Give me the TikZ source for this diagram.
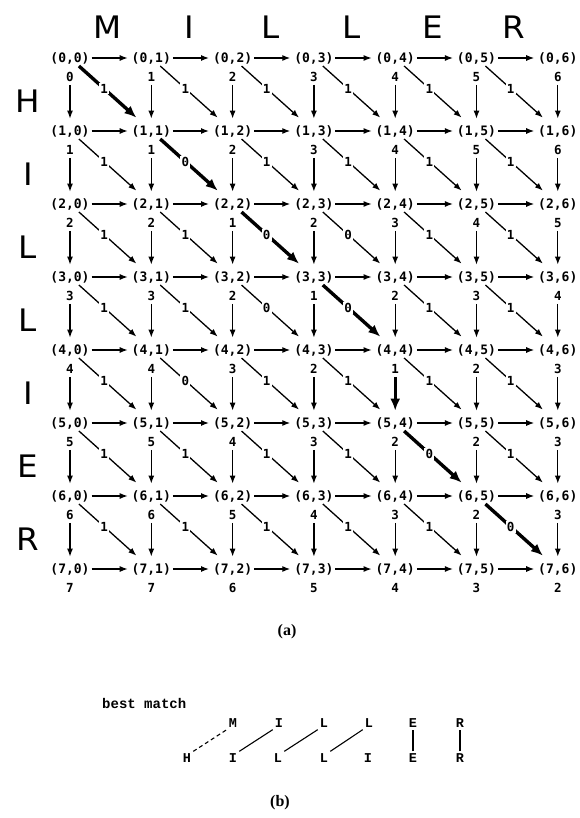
\documentclass[tikz,border=0pt]{standalone}
\usepackage{fontspec}
\setmainfont{Liberation Serif}
\newfontfamily\gridfont{DejaVu Sans Mono}
\newfontfamily\bigfont{DejaVu Sans}
\newfontfamily\ttfont{Liberation Mono}
\usetikzlibrary{arrows.meta}
\begin{document}
\begin{tikzpicture}[x=1pt,y=-1pt,
  lbl/.style={font={\gridfont\bfseries\fontsize{13pt}{14pt}\selectfont}, inner sep=0.8pt},
  val/.style={font={\gridfont\bfseries\fontsize{12.5pt}{14pt}\selectfont}, inner sep=0.5pt},
  dlab/.style={font={\gridfont\bfseries\fontsize{12.5pt}{14pt}\selectfont}, fill=white, inner sep=1.2pt},
  big/.style={font={\bigfont\fontsize{31pt}{34pt}\selectfont}, xscale=1.05, inner sep=0pt},
  captext/.style={font={\bfseries\fontsize{16pt}{18pt}\selectfont}, inner sep=0pt},
  edge0/.style={-{Latex[length=8pt,width=6pt]}, line width=1.3pt},
  edge1/.style={-{Latex[length=12pt,width=10pt]}, line width=3.4pt},
  blet/.style={font={\ttfont\bfseries\fontsize{13.5pt}{14pt}\selectfont}, inner sep=2pt},
  bline/.style={line width=1.1pt}
]
\useasboundingbox (0,0) rectangle (579,818);
% column letters
\foreach \c [count=\k from 0] in {M,I,L,L,E,R}
  \node[big] (col-\k) at ({107.6+81.3*\k},27) {\c};
% row letters
\foreach \r [count=\k from 0] in {H,I,L,L,I,E,R}
  \node[big] (row-\k) at (28,{101.5+73*\k}) {\r};
% nodes and values
\foreach \row [count=\i from 0] in {{0,1,2,3,4,5,6},{1,1,2,3,4,5,6},{2,2,1,2,3,4,5},{3,3,2,1,2,3,4},{4,4,3,2,1,2,3},{5,5,4,3,2,2,3},{6,6,5,4,3,2,3},{7,7,6,5,4,3,2}}{
  \foreach \v [count=\j from 0] in \row {
    \node[lbl] (n-\i-\j) at ({70+81.3*\j},{58+73*\i}) {(\i,\j)};
    \node[val] (v-\i-\j) at ({70+81.3*\j},{77+73*\i}) {\v};
  }
}
% horizontal arrows
\foreach \i in {0,...,7}
  \foreach \j in {0,...,5}{
    \pgfmathtruncatemacro\jj{\j+1}
    \draw[edge0, shorten <=1pt, shorten >=3pt] (n-\i-\j.east) -- (n-\i-\jj.west);
  }
% vertical arrows
\foreach \i in {0,...,6}
  \foreach \j in {0,...,6}{
    \pgfmathtruncatemacro\ii{\i+1}
    \pgfmathtruncatemacro\bold{(\i==4 && \j==4) ? 1 : 0}
    \draw[edge\bold, shorten <=2.5pt, shorten >=5.5pt] (v-\i-\j.south) -- (n-\ii-\j.north);
  }
% diagonal arrows
\foreach \i in {0,...,6}
  \foreach \j in {0,...,5}{
    \pgfmathtruncatemacro\ii{\i+1}
    \pgfmathtruncatemacro\jj{\j+1}
    \pgfmathtruncatemacro\rl{{0,1,2,3,3,2,4,5}[\ii]}
    \pgfmathtruncatemacro\cl{{0,6,2,3,3,4,5}[\jj]}
    \pgfmathtruncatemacro\lab{\rl==\cl ? 0 : 1}
    \pgfmathtruncatemacro\bold{((\i==\j) && (\i<4)) || (\i==5 && \j==4) || (\i==6 && \j==5) ? 1 : 0}
    \draw[edge\bold, shorten <=12pt, shorten >=20pt] (n-\i-\j.center) -- node[dlab, pos=0.42] {\lab} (n-\ii-\jj.center);
  }
\node[captext] (capa) at (287,632) {(a)};
% part (b)
\node[font={\ttfont\bfseries\fontsize{14pt}{15pt}\selectfont}, anchor=west, inner sep=0pt] (best) at (102,703) {best match};
\foreach \c/\x [count=\k] in {M/233,I/279,L/324,L/369,E/413,R/460}
  \node[blet] (t-\k) at (\x,723) {\c};
\foreach \c/\x [count=\k] in {H/187,I/233,L/278,L/324,I/368,E/413,R/460}
  \node[blet] (b-\k) at (\x,758) {\c};
\draw[bline, dashed, dash pattern=on 4pt off 3pt] (b-1.north east) -- (t-1.south west);
\draw[bline] (b-2.north east) -- (t-2.south west);
\draw[bline] (b-3.north east) -- (t-3.south west);
\draw[bline] (b-4.north east) -- (t-4.south west);
\draw[bline] (b-6.north) -- (t-5.south);
\draw[bline] (b-7.north) -- (t-6.south);
\node[captext] (capb) at (280,803) {(b)};
\end{tikzpicture}
\end{document}
